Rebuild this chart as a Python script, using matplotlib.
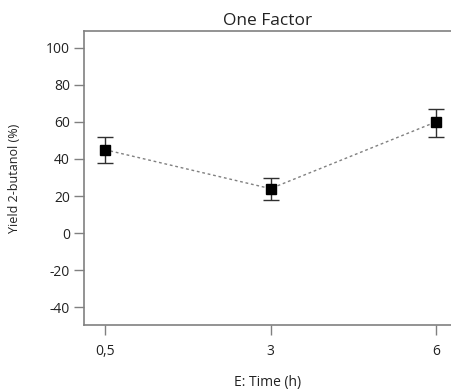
import matplotlib
matplotlib.use('Agg')
import matplotlib.pyplot as plt

# data
times = ['0,5', '3', '6']
yield_mean = [45, 24, 60]
err_low = [38, 18, 52]
err_high = [52, 30, 67]

plt.rcParams['font.family'] = ['Open Sans', 'DejaVu Sans']
plt.rcParams['axes.unicode_minus'] = False

fig = plt.figure(figsize=(4.51, 3.92), dpi=100)
ax = fig.add_axes([0.186, 0.171, 0.814, 0.75])

xs = list(range(len(times)))
lo = [m - l for m, l in zip(yield_mean, err_low)]
hi = [h - m for m, h in zip(yield_mean, err_high)]

ax.plot(xs, yield_mean, linestyle=(0, (2, 2)), color='#808080', linewidth=1, zorder=1)
ax.errorbar(xs, yield_mean, yerr=[lo, hi], fmt='none', ecolor='#303030',
            elinewidth=1, capsize=6, capthick=1, zorder=2)
ax.plot(xs, yield_mean, 's', color='black', markersize=7, zorder=3)

ax.set_xlim(-0.127, 2.09)
ax.set_ylim(-49.5, 109)
ax.set_xticks(xs)
ax.set_xticklabels(times)
ax.set_yticks(range(-40, 101, 20))

ax.spines['right'].set_visible(False)
for s in ['left', 'bottom', 'top']:
    ax.spines[s].set_color('#808080')
    ax.spines[s].set_linewidth(1.2)

ax.tick_params(axis='both', colors='#808080', labelcolor='#222222', labelsize=10,
               length=7, width=1)
ax.tick_params(axis='x', pad=7)
ax.tick_params(axis='y', pad=3)

ax.set_title('One Factor', fontsize=12.5, color='#222222', pad=4)
ax.set_xlabel('E: Time (h)', fontsize=10, color='#222222', va='center')
ax.xaxis.set_label_coords(0.5, -0.197)
ax.set_ylabel('Yield 2-butanol (%)', fontsize=9, color='#222222', va='center')
ax.yaxis.set_label_coords(-0.188, 0.5)

fig.savefig('out.png', dpi=100)
